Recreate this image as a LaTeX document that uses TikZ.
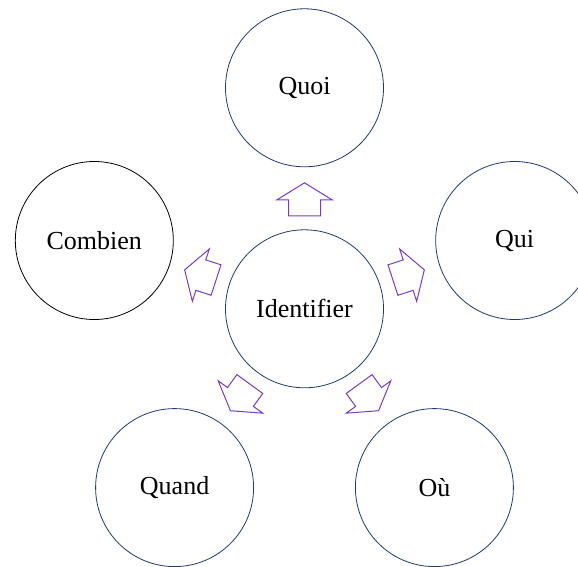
\documentclass[tikz,border=0pt]{standalone}
\usepackage{fontspec}
\setmainfont{Liberation Serif}
\usetikzlibrary{calc}
\definecolor{ringblue}{HTML}{1F3A6E}
\definecolor{arrowpurple}{HTML}{7A3CC0}
\tikzset{
  bubble/.style={circle, draw=ringblue, line width=0.8pt, minimum size=158pt,
    inner sep=0pt, font=\fontsize{26}{30}\selectfont},
  blockarrow/.style={draw=arrowpurple, line width=1pt, line join=miter, fill=white}
}
\begin{document}
\begin{tikzpicture}[x=1pt,y=1pt]
  \useasboundingbox (0,0) rectangle (578,566);
  % hub and the five questions around it
  \node[bubble] (id) at (304.5,257.2) {Identifier};
  \node[bubble] (quoi) at ($(id)+(90:221)$) {Quoi};
  \node[bubble] (qui) at ($(id)+(18:221)$) {Qui};
  \node[bubble, draw=black] (combien) at ($(id)+(162:221)$) {Combien};
  \node[bubble] (quand) at ($(id)+(234:221)$) {Quand};
  \node[bubble] (ou) at ($(id)+(306:221)$) {Où};
  % hollow block arrows from the hub towards each question
  \foreach \ang/\target in {90/quoi, 18/qui, 162/combien, 234/quand, 306/ou}{
    \begin{scope}[shift={($(id)!0.5!(\target)$)}, rotate=\ang]
      \draw[blockarrow] (-17.5,-16) -- (-1.5,-16) -- (-1.5,-27.5) -- (15.5,0)
        -- (-1.5,27.5) -- (-1.5,16) -- (-17.5,16) -- cycle;
    \end{scope}
  }
\end{tikzpicture}
\end{document}
